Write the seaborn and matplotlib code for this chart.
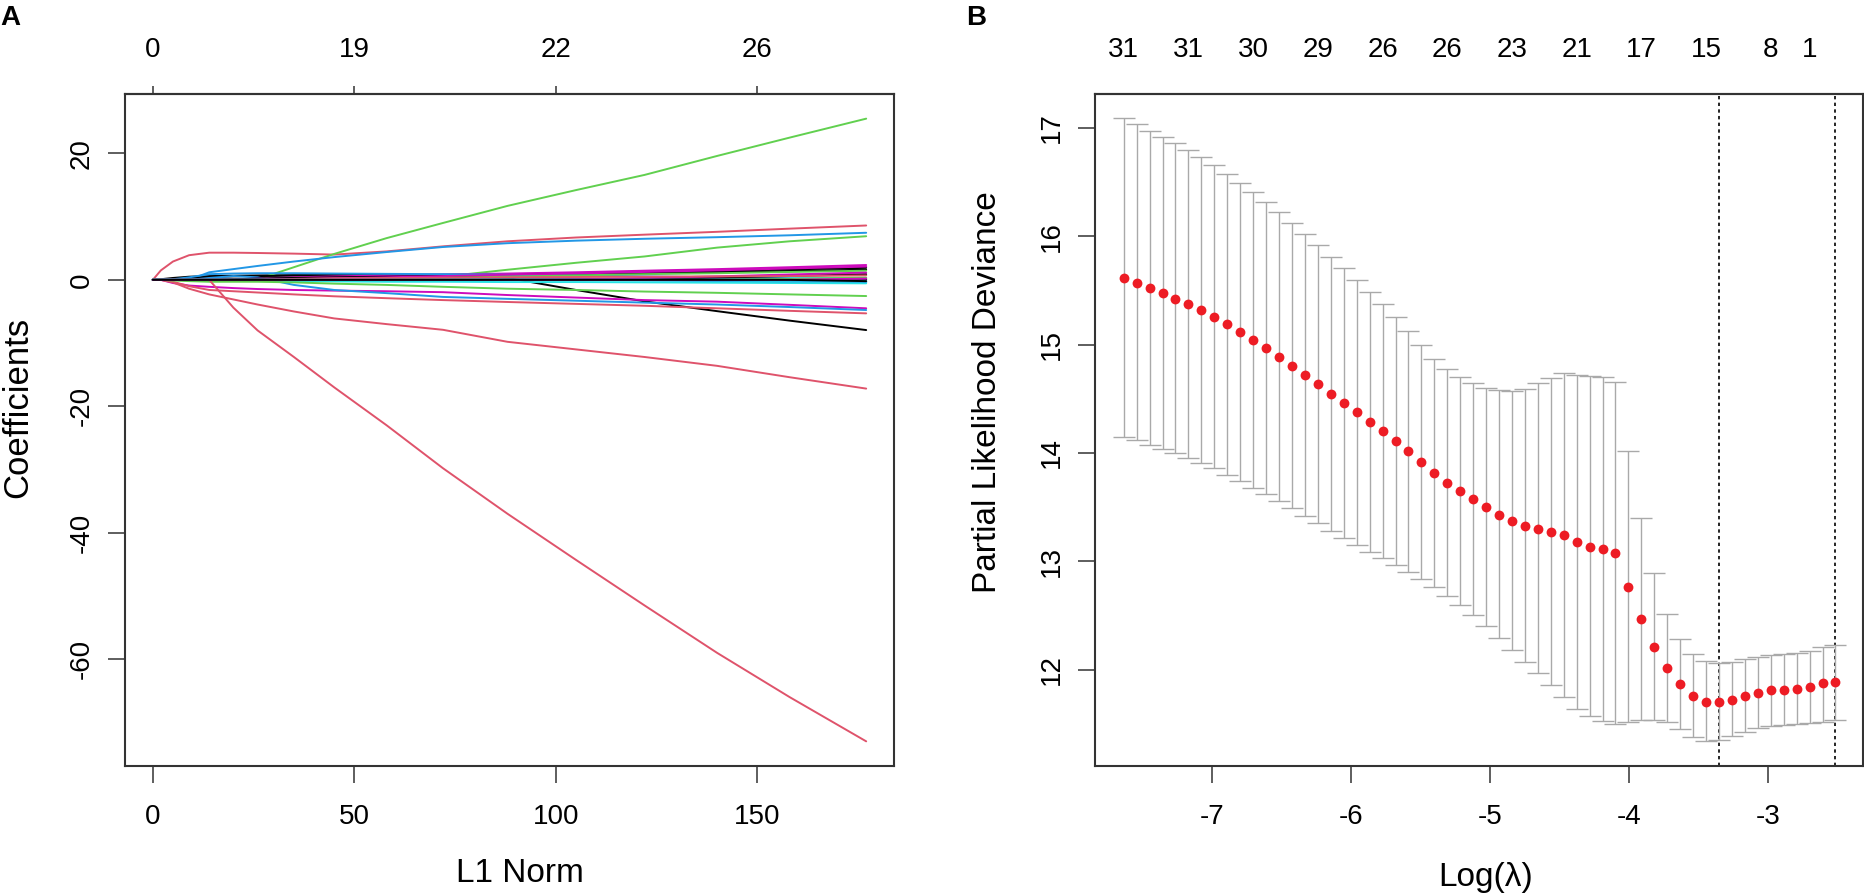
import matplotlib
matplotlib.use("Agg")
import numpy as np
import pandas as pd
import matplotlib.pyplot as plt
import seaborn as sns

# ---------------- Panel A: lasso coefficient paths ----------------
l1_norm = [0, 2, 5, 9, 14, 20, 26, 35, 45, 58, 72, 88, 105, 122, 140, 158, 177]

black_paths = [
    [0, 0.1, 0.3, 0.5, 0.6, 0.65, 0.7, 0.75, 0.75, 0.7, 0.6, 0.3, -1.6, -3.4, -4.95, -6.45, -7.94],
    [0, 0, 0.1, 0.3, 0.45, 0.55, 0.6, 0.65, 0.7, 0.75, 0.8, 0.9, 1.0, 1.2, 1.4, 1.65, 1.9],
    [0, 0, 0, 0, 0, 0.1, 0.2, 0.3, 0.4, 0.5, 0.6, 0.75, 0.9, 1.05, 1.2, 1.4, 1.6],
    [0, 0, 0, 0, 0, 0, 0, 0, 0, 0, 0, 0, 0, 0.1, 0.35, 0.6, 0.9],
    [0, 0, 0, 0, 0, 0, 0, 0, 0, 0, 0, 0, 0, 0, 0, 0.05, 0.1],
    [0, 0, 0, 0, 0, 0, 0, 0, 0, 0, 0, 0, 0, 0, 0, 0, -0.2],
]
pink_paths = [
    [0, 1.5, 2.9, 3.9, 4.3, 4.3, 4.25, 4.15, 4.0, 4.5, 5.3, 6.1, 6.7, 7.15, 7.6, 8.1, 8.6],
    [0, 0, -0.3, -1.0, -1.6, -1.8, -2.0, -2.3, -2.6, -2.9, -3.2, -3.5, -3.8, -4.1, -4.5, -4.9, -5.3],
    [0, 0, -0.4, -1.4, -2.3, -3.1, -3.9, -5.0, -6.1, -7.0, -7.9, -9.8, -11.0, -12.2, -13.6, -15.4, -17.2],
    [0, 0, 0, 0, 0, -4.4, -8.0, -12.2, -17.0, -23.0, -29.8, -37.0, -44.3, -51.5, -59.0, -66.0, -73.0],
    [0, 0, 0, 0, 0, 0, 0, 0.15, 0.25, 0.3, 0.35, 0.4, 0.45, 0.5, 0.55, 0.6, 0.7],
]
green_paths = [
    [0, 0, 0, 0, 0, 0, 0.1, 2.0, 4.1, 6.6, 9.0, 11.7, 14.2, 16.6, 19.6, 22.5, 25.5],
    [0, 0, 0, 0, 0, 0, 0, 0, 0.2, 0.3, 0.5, 1.6, 2.7, 3.7, 5.1, 6.1, 6.9],
    [0, 0, -0.1, -0.2, -0.3, -0.3, -0.3, -0.4, -0.6, -0.8, -1.1, -1.4, -1.6, -1.85, -2.05, -2.3, -2.56],
    [0, 0, 0, 0, 0, 0, 0, 0, 0, 0.1, 0.3, 0.5, 0.7, 0.9, 1.05, 1.25, 1.45],
    [0, 0, 0, 0, 0, 0, 0, 0, 0, 0, 0, 0, 0, 0, 0, 0.15, 0.35],
]
blue_paths = [
    [0, 0, 0, 0, 1.2, 1.7, 2.2, 2.9, 3.6, 4.4, 5.2, 5.8, 6.2, 6.5, 6.75, 7.05, 7.45],
    [0, 0, 0, 0, 0.3, 0.6, 0.4, -0.8, -1.6, -2.1, -2.7, -3.0, -3.3, -3.6, -3.9, -4.3, -4.77],
    [0, 0, 0.1, 0.4, 0.9, 1.0, 1.05, 1.05, 1.0, 0.95, 0.9, 0.8, 0.7, 0.55, 0.4, 0.25, 0.1],
    [0, 0, 0, 0, 0, 0, 0, 0, 0, 0, 0, 0, 0, -0.05, -0.15, -0.25, -0.35],
    [0, 0, 0, 0, 0, 0, 0, 0, 0, 0, 0, 0, 0, 0, 0, -0.1, -0.3],
]
cyan_paths = [
    [0, 0, 0, 0, 0, -0.1, -0.15, -0.2, -0.25, -0.3, -0.3, -0.35, -0.35, -0.4, -0.45, -0.5, -0.55],
    [0, 0, 0, 0, 0, 0, 0, 0.05, 0.1, 0.1, 0.1, 0.05, -0.05, -0.1, -0.15, -0.2, -0.25],
    [0, 0, 0, 0, 0, 0, 0, 0, 0, 0, 0, 0.05, 0.1, 0.15, 0.2, 0.25, 0.3],
    [0, 0, 0, 0, 0, 0, 0, 0, 0, 0, 0, 0, 0, 0, -0.05, -0.2, -0.4],
    [0, 0, 0, 0, 0, 0, 0, 0, 0, 0, 0, 0, 0, 0, 0, 0, -0.15],
]
magenta_paths = [
    [0, 0, -0.5, -0.9, -1.1, -1.3, -1.45, -1.6, -1.7, -1.8, -1.95, -2.4, -2.8, -3.2, -3.45, -3.95, -4.5],
    [0, 0, 0, 0, 0, 0.05, 0.2, 0.4, 0.55, 0.7, 0.85, 1.0, 1.2, 1.45, 1.7, 2.0, 2.35],
    [0, 0, 0, 0, 0, 0, 0, 0.1, 0.25, 0.4, 0.6, 0.8, 1.0, 1.25, 1.5, 1.8, 2.1],
    [0, 0, 0, 0, 0, 0, 0, 0, 0, 0, 0, 0, 0.1, 0.3, 0.55, 0.85, 1.15],
    [0, 0, 0, 0, 0, 0, 0, 0, 0, 0, 0, 0, 0, 0, 0, 0, 0.2],
]

top_ticks_a = [0, 50, 100, 150]
top_labels_a = ["0", "19", "22", "26"]

# ---------------- Panel B: cross-validated partial likelihood deviance ----------------
log_lambda = [
    -7.635, -7.542, -7.449, -7.356, -7.263, -7.170, -7.077, -6.983, -6.890, -6.797,
    -6.704, -6.611, -6.518, -6.425, -6.332, -6.239, -6.146, -6.053, -5.959, -5.866,
    -5.773, -5.680, -5.587, -5.494, -5.401, -5.308, -5.215, -5.122, -5.029, -4.935,
    -4.842, -4.749, -4.656, -4.563, -4.470, -4.377, -4.284, -4.191, -4.098, -4.005,
    -3.911, -3.818, -3.725, -3.632, -3.539, -3.446, -3.353, -3.260, -3.167, -3.074,
    -2.981, -2.887, -2.794, -2.701, -2.608, -2.515,
]
cvm = [
    15.611, 15.570, 15.521, 15.475, 15.423, 15.371, 15.315, 15.254, 15.186, 15.115,
    15.044, 14.968, 14.885, 14.804, 14.722, 14.637, 14.548, 14.457, 14.374, 14.282,
    14.202, 14.110, 14.018, 13.913, 13.812, 13.722, 13.649, 13.575, 13.498, 13.430,
    13.369, 13.328, 13.298, 13.270, 13.243, 13.181, 13.135, 13.111, 13.074, 12.764,
    12.465, 12.212, 12.018, 11.868, 11.764, 11.706, 11.700, 11.727, 11.760, 11.790,
    11.811, 11.819, 11.828, 11.843, 11.875, 11.884,
]
cvup = [
    17.087, 17.034, 16.972, 16.917, 16.862, 16.794, 16.727, 16.653, 16.576, 16.493,
    16.404, 16.315, 16.222, 16.124, 16.019, 15.918, 15.807, 15.703, 15.595, 15.481,
    15.371, 15.251, 15.125, 14.993, 14.869, 14.774, 14.703, 14.645, 14.601, 14.577,
    14.568, 14.589, 14.642, 14.688, 14.740, 14.722, 14.707, 14.703, 14.657, 14.018,
    13.397, 12.889, 12.520, 12.283, 12.145, 12.080, 12.065, 12.071, 12.096, 12.115,
    12.136, 12.145, 12.158, 12.176, 12.212, 12.228,
]
cvlo = [
    14.147, 14.116, 14.073, 14.036, 14.000, 13.956, 13.907, 13.858, 13.796, 13.744,
    13.679, 13.618, 13.556, 13.489, 13.418, 13.350, 13.282, 13.218, 13.153, 13.086,
    13.028, 12.966, 12.904, 12.837, 12.760, 12.683, 12.594, 12.505, 12.404, 12.293,
    12.182, 12.069, 11.967, 11.859, 11.746, 11.644, 11.576, 11.533, 11.502, 11.520,
    11.536, 11.536, 11.517, 11.459, 11.385, 11.349, 11.350, 11.388, 11.428, 11.460,
    11.484, 11.496, 11.505, 11.515, 11.522, 11.540,
]
log_lambda_min = -3.353
log_lambda_1se = -2.515
nzero_idx = [0, 5, 10, 15, 20, 25, 30, 35, 40, 45, 50, 53]
nzero_labels = ["31", "31", "30", "29", "26", "26", "23", "21", "17", "15", "8", "1"]

# R 4.x default palette (matplot cycles col = 1:6)
r_colors = {
    "black": "#000000",
    "pink": "#DF536B",
    "green": "#61D04F",
    "blue": "#2297E6",
    "cyan": "#28E2E5",
    "magenta": "#CD0BBC",
}
groups = [
    ("black", black_paths),
    ("pink", pink_paths),
    ("green", green_paths),
    ("blue", blue_paths),
    ("cyan", cyan_paths),
    ("magenta", magenta_paths),
]
n_vars = sum(len(p) for _, p in groups)

records = []
palette = {}
for j in range(n_vars):
    cname, paths = groups[j % 6]
    var = f"V{j + 1}"
    palette[var] = r_colors[cname]
    for x, y in zip(l1_norm, paths[j // 6]):
        records.append({"var": var, "l1": x, "coef": y})
df_a = pd.DataFrame(records)

# ---------------- style ----------------
sns.set_style("ticks")
plt.rcParams["font.family"] = ["Liberation Sans", "DejaVu Sans"]
plt.rcParams["axes.unicode_minus"] = False
plt.rcParams["text.color"] = "black"
plt.rcParams["axes.labelcolor"] = "black"
plt.rcParams["xtick.labelcolor"] = "black"
plt.rcParams["ytick.labelcolor"] = "black"

W, H = 1865, 894
fig = plt.figure(figsize=(W / 100, H / 100), dpi=100)
ax_a = fig.add_axes([125 / W, (H - 766) / H, (894 - 125) / W, (766 - 94) / H])
ax_b = fig.add_axes([1095 / W, (H - 766) / H, (1863 - 1095) / W, (766 - 94) / H])

spine_col = "#333333"
tick_fs = 20
label_fs = 24

# ---- Panel A ----
sns.lineplot(
    data=df_a, x="l1", y="coef", hue="var", palette=palette,
    estimator=None, sort=False, legend=False, linewidth=1.4, ax=ax_a,
)
ax_a.set_xlim(-6.9, 183.9)
ax_a.set_ylim(-76.9, 29.4)
ax_a.set_xticks([0, 50, 100, 150], labels=["0", "50", "100", "150"])
yt_a = [-60, -40, -20, 0, 20]
ax_a.set_yticks(yt_a, labels=[str(t) for t in yt_a], rotation=90, va="center")
ax_a.set_xlabel("L1 Norm", fontsize=label_fs)
ax_a.set_ylabel("Coefficients", fontsize=25)
ax_a.xaxis.set_label_coords(0.513, -0.137)
ax_a.yaxis.set_label_coords(-0.1183, 0.534)

sec_a = ax_a.secondary_xaxis("top")
sec_a.set_xticks(top_ticks_a, labels=top_labels_a)
sec_a.tick_params(length=6, width=1.1, color=spine_col, labelsize=tick_fs, pad=16.5,
                  labelcolor="black")
sec_a.spines["top"].set_linewidth(1.5)
sec_a.spines["top"].set_color(spine_col)

# ---- Panel B ----
cvm_arr = np.array(cvm)
yerr = [cvm_arr - np.array(cvlo), np.array(cvup) - cvm_arr]
ax_b.errorbar(
    log_lambda, cvm, yerr=yerr, fmt="none", ecolor="#A9A9A9",
    elinewidth=1.0, capsize=8, capthick=1.0, zorder=2,
)
sns.scatterplot(x=log_lambda, y=cvm, color="#ED1C24", s=50, linewidth=0, ax=ax_b, zorder=3)
for v in (log_lambda_min, log_lambda_1se):
    ax_b.axvline(v, color="black", linestyle=(0, (2, 2)), linewidth=1.2, zorder=1)

ax_b.set_xlim(-7.842, -2.317)
ax_b.set_ylim(11.114, 17.31)
xt_b = [-7, -6, -5, -4, -3]
ax_b.set_xticks(xt_b, labels=[str(t) for t in xt_b])
yt_b = [12, 13, 14, 15, 16, 17]
ax_b.set_yticks(yt_b, labels=[str(t) for t in yt_b], rotation=90, va="center")
ax_b.set_xlabel("Log(\u03bb)", fontsize=label_fs)
ax_b.set_ylabel("Partial Likelihood Deviance", fontsize=label_fs)
ax_b.xaxis.set_label_coords(0.509, -0.1429)
ax_b.yaxis.set_label_coords(-0.1198, 0.557)

sec_b = ax_b.secondary_xaxis("top")
sec_b.set_xticks([log_lambda[i] for i in nzero_idx], labels=nzero_labels)
sec_b.tick_params(length=0, labelsize=tick_fs, pad=22, labelcolor="black")
sec_b.spines["top"].set_linewidth(1.5)
sec_b.spines["top"].set_color(spine_col)

for ax in (ax_a, ax_b):
    for s in ax.spines.values():
        s.set_visible(True)
        s.set_linewidth(1.5)
        s.set_color(spine_col)
    ax.tick_params(axis="both", length=12, width=1.1, color=spine_col, labelsize=tick_fs,
                   labelcolor="black")
    ax.tick_params(axis="x", pad=15)
    ax.tick_params(axis="y", pad=10)
    ax.xaxis.label.set_va("top")

fig.text(10 / W, 1 - 25 / H, "A", fontsize=20, fontweight="bold", ha="center", va="baseline")
fig.text(976.5 / W, 1 - 25 / H, "B", fontsize=20, fontweight="bold", ha="center", va="baseline")

fig.savefig("out.png", dpi=100)
